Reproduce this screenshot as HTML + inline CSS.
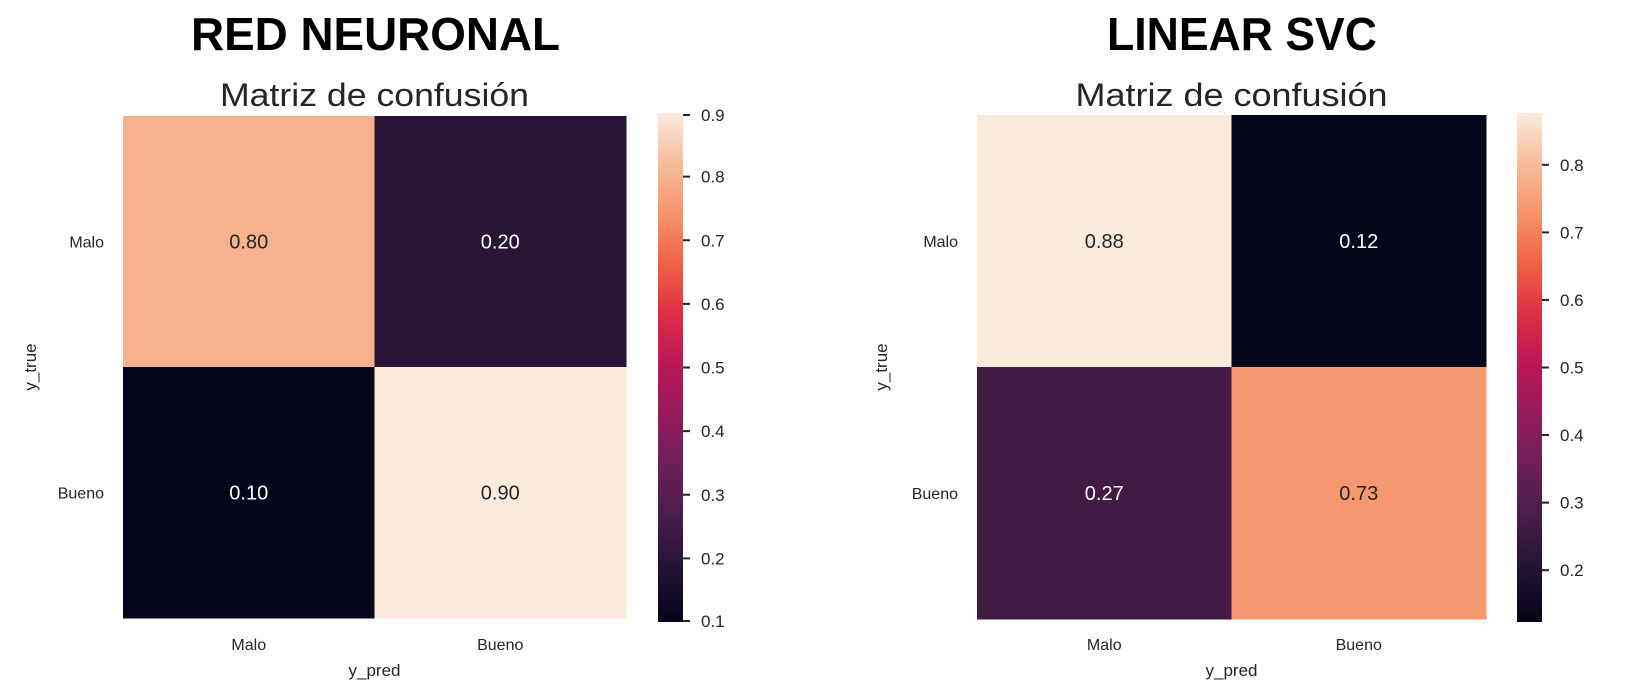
<!DOCTYPE html>
<html><head><meta charset="utf-8"><style>
html,body{margin:0;padding:0;background:#fff;}
svg{display:block;font-family:"Liberation Sans",Arial,sans-serif;}
</style></head><body>
<svg id="chart" width="1629" height="691" viewBox="0 0 1629 691">
<defs>
<linearGradient id="gL" x1="0" y1="1" x2="0" y2="0"></linearGradient>
<linearGradient id="gR" x1="0" y1="1" x2="0" y2="0"></linearGradient>
</defs>
</svg>
<script>
const classLabels = ["Malo", "Bueno"];
const nnValues = [[0.80, 0.20], [0.10, 0.90]];
const svcValues = [[0.8767, 0.1233], [0.2667, 0.7333]];
const nnTicks = [0.1, 0.2, 0.3, 0.4, 0.5, 0.6, 0.7, 0.8, 0.9];
const svcTicks = [0.2, 0.3, 0.4, 0.5, 0.6, 0.7, 0.8];
const nnTitle = "RED NEURONAL";
const svcTitle = "LINEAR SVC";

const rocket = [[0,"#03051a"],[0.1,"#221331"],[0.2,"#451c47"],[0.3,"#6a1f56"],[0.4,"#921c5b"],[0.5,"#b91657"],[0.6,"#dd2c45"],[0.7,"#f06043"],[0.8,"#f5936a"],[0.9,"#f6bc9a"],[1,"#faebdd"]];
function hex(h){return [1,3,5].map(i=>parseInt(h.substr(i,2),16));}
function cmap(t){
  t=Math.max(0,Math.min(1,t));
  for(let i=0;i<rocket.length-1;i++){
    const [a,ca]=rocket[i],[b,cb]=rocket[i+1];
    if(t<=b){const f=(t-a)/(b-a);const A=hex(ca),B=hex(cb);
      return "rgb("+A.map((v,k)=>Math.round(v+(B[k]-v)*f)).join(",")+")";}
  }
  return rocket[rocket.length-1][1];
}
const NS="http://www.w3.org/2000/svg";
const svg=document.getElementById("chart");
function mk(tag,attrs,parent,text){
  const e=document.createElementNS(NS,tag);
  for(const k in attrs)e.setAttribute(k,attrs[k]);
  if(text!==undefined)e.textContent=text;
  (parent||svg).appendChild(e);return e;
}

function panel(cfg){
  const g=mk("g",{});
  
  
  const vals=cfg.values;
  let vmin=Infinity,vmax=-Infinity;
  vals.forEach(r=>r.forEach(v=>{vmin=Math.min(vmin,v);vmax=Math.max(vmax,v);}));
  const n=classLabels.length;
  const cw=(cfg.x1-cfg.x0)/n, ch=(cfg.y1-cfg.y0)/n;
  const xs=i=>cfg.x0+i*cw, ys=j=>cfg.y0+j*ch;
  const norm=v=>(v-vmin)/(vmax-vmin);
  // title
  const t=mk("text",{x:cfg.tx,y:50,"font-size":46,"font-weight":"bold",fill:"#000",textLength:cfg.tw,lengthAdjust:"spacingAndGlyphs"},g,cfg.title);
  
  
  const st=mk("text",{x:(cfg.x0+cfg.x1)/2,y:106,"font-size":32,fill:"#262626","text-anchor":"middle",textLength:cfg.sw,lengthAdjust:"spacingAndGlyphs"},g,"Matriz de confusión");
  
  
  for(let r=0;r<n;r++)for(let c=0;c<n;c++){
    const v=vals[r][c];
    const rect=mk("rect",{x:xs(c),y:ys(r),width:cw+0.5,height:ch+0.5,fill:cmap(norm(v))},g);
    
    
    const tx=mk("text",{x:xs(c)+cw/2,y:ys(r)+ch/2+7,"font-size":20,"text-anchor":"middle",fill:norm(v)>0.5?"#262626":"#ffffff"},g,v.toFixed(2));
    
    
  }
  classLabels.forEach((lab,i)=>{
    const yl=mk("text",{x:cfg.x0-19,y:ys(i)+ch/2+6,"font-size":16,"text-anchor":"end",fill:"#262626"},g,lab);
    
    
    const xl=mk("text",{x:xs(i)+cw/2,y:650,"font-size":16,"text-anchor":"middle",fill:"#262626"},g,lab);
    
    
  });
  const xt=mk("text",{x:(cfg.x0+cfg.x1)/2,y:676,"font-size":17,"text-anchor":"middle",fill:"#262626"},g,"y_pred");
  
  
  const yc=(cfg.y0+cfg.y1)/2;
  const yt=mk("text",{x:cfg.ytx,y:yc,"font-size":17,"text-anchor":"middle",fill:"#262626",transform:"rotate(-90 "+cfg.ytx+" "+yc+")"},g,"y_true");
  
  
  // colorbar
  const grad=document.getElementById(cfg.grad);
  for(let k=0;k<=20;k++){const s=k/20;mk("stop",{offset:s,"stop-color":cmap(s)},grad);}
  const cb0=113,cb1=622;
  const cb=mk("rect",{x:cfg.cbx,y:cb0,width:25,height:cb1-cb0,fill:"url(#"+cfg.grad+")"},g);
  
  
  const cy=v=>cb1-(v-vmin)/(vmax-vmin)*(cb1-cb0);
  cfg.ticks.forEach(v=>{
    const y=Math.max(cb0+2,Math.min(cb1-1,cy(v)));
    const tk=mk("line",{x1:cfg.cbx+25,x2:cfg.cbx+32,y1:y,y2:y,stroke:"#262626","stroke-width":2},g);
    
    
    const tl=mk("text",{x:cfg.cbx+43,y:y+6,"font-size":17,fill:"#262626"},g,v.toFixed(1));
    
    
  });
}
panel({name:"red-neuronal-panel",title:nnTitle,values:nnValues,ticks:nnTicks,x0:123,x1:626,y0:116,y1:618,tx:191,tw:369,sw:309,ytx:36,cbx:658,grad:"gL"});
panel({name:"linear-svc-panel",title:svcTitle,values:svcValues,ticks:svcTicks,x0:977,x1:1486,y0:115,y1:619,tx:1107,tw:270,sw:312,ytx:887,cbx:1517,grad:"gR"});
</script>
</body></html>
